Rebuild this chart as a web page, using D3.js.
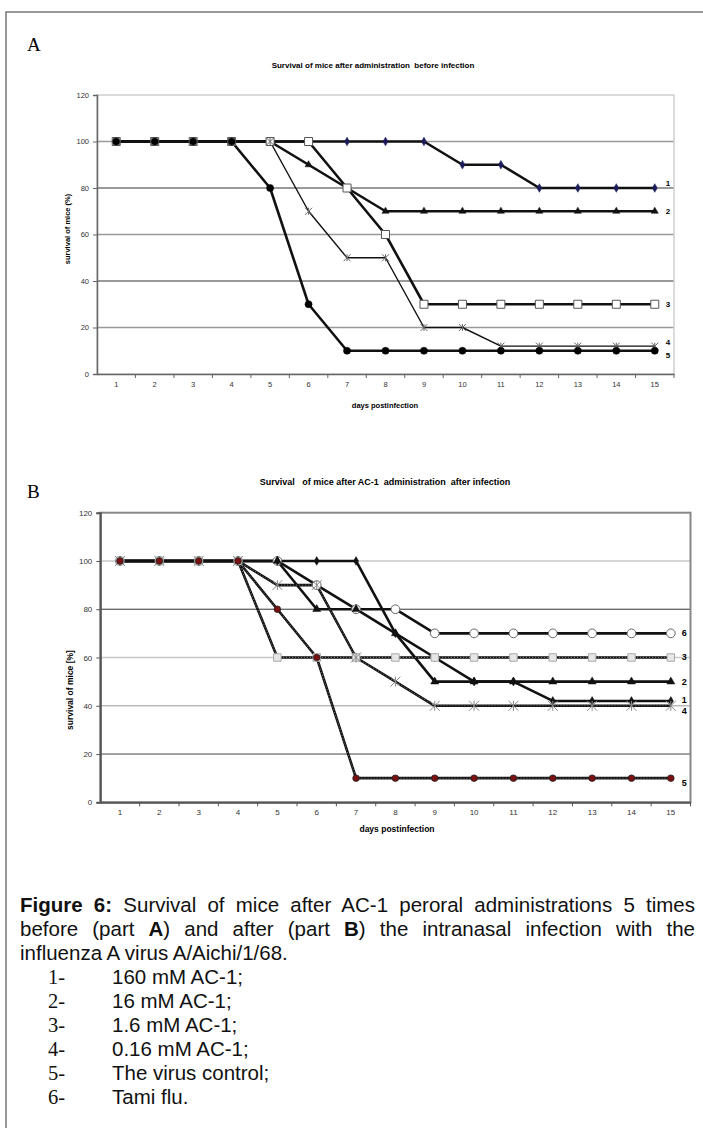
<!DOCTYPE html>
<html>
<head>
<meta charset="utf-8">
<script src="https://cdn.jsdelivr.net/npm/d3@7"></script>
<style>
  body { margin: 0; background: #fff; }
  #figure { position: relative; width: 703px; height: 1128px; overflow: hidden; }
  #figure svg { position: absolute; left: 0; top: 0; }
  .caption {
    position: absolute; left: 20px; top: 893px; width: 675px;
    font-family: "Liberation Sans", Arial, sans-serif;
    font-size: 20.5px; line-height: 24px; color: #111;
  }
  .caption .just { text-align: justify; text-align-last: justify; white-space: nowrap; }
  .caption .item { position: relative; height: 24px; }
  .caption .num { position: absolute; left: 28px; font-family: "Liberation Serif", serif; }
  .caption .txt { position: absolute; left: 92px; }
</style>
</head>
<body>
<div id="figure"></div>
<script>
// categories (days postinfection) and value axis ticks
const days = [1, 2, 3, 4, 5, 6, 7, 8, 9, 10, 11, 12, 13, 14, 15];
const yTicks = [0, 20, 40, 60, 80, 100, 120];

// Part A: administration before infection
const beforeS1 = [100, 100, 100, 100, 100, 100, 100, 100, 100, 90, 90, 80, 80, 80, 80];
const beforeS2 = [100, 100, 100, 100, 100, 90, 80, 70, 70, 70, 70, 70, 70, 70, 70];
const beforeS3 = [100, 100, 100, 100, 100, 100, 80, 60, 30, 30, 30, 30, 30, 30, 30];
const beforeS4 = [100, 100, 100, 100, 100, 70, 50, 50, 20, 20, 12, 12, 12, 12, 12];
const beforeS5 = [100, 100, 100, 100, 80, 30, 10, 10, 10, 10, 10, 10, 10, 10, 10];

// Part B: administration after infection
const afterS1 = [100, 100, 100, 100, 100, 100, 100, 70, 60, 50, 50, 42, 42, 42, 42];
const afterS2 = [100, 100, 100, 100, 100, 80, 80, 70, 50, 50, 50, 50, 50, 50, 50];
const afterS3 = [100, 100, 100, 100, 60, 60, 60, 60, 60, 60, 60, 60, 60, 60, 60];
const afterS4 = [100, 100, 100, 100, 90, 90, 60, 50, 40, 40, 40, 40, 40, 40, 40];
const afterS5 = [100, 100, 100, 100, 80, 60, 10, 10, 10, 10, 10, 10, 10, 10, 10];
const afterS6 = [100, 100, 100, 100, 100, 90, 80, 80, 70, 70, 70, 70, 70, 70, 70];

const captionLines = [
    ["Figure 6:", " Survival of mice after AC-1 peroral administrations 5 times"],
    ["", "before (part ", "A", ") and after (part ", "B", ") the intranasal infection with the"],
    ["", "influenza A virus A/Aichi/1/68."]
];
const legendNums = ["1-", "2-", "3-", "4-", "5-", "6-"];
const legendText = ["160 mM AC-1;", "16 mM AC-1;", "1.6 mM AC-1;", "0.16 mM AC-1;", "The virus control;", "Tami flu."];

const W = 703, H = 1128;
const sans = "'Liberation Sans', Arial, sans-serif";

const container = d3.select("#figure");
const svg = container.append("svg").attr("width", W).attr("height", H);

// outer frame (top and left edges only are visible)
svg.append("path")
    .attr("d", `M6,${H} L6,12 L${W},12`)
    .attr("fill", "none")
    .attr("stroke", "#777")
    .attr("stroke-width", 1.5);

// marker shapes
function markerPath(type, size) {
    if (type === "star") {
        const r = size;
        return `M${-r},${-r}L${r},${r}M${-r},${r}L${r},${-r}M0,${-r}L0,${r}`;
    }
    const sym = {
        diamond: d3.symbolDiamond,
        triangle: d3.symbolTriangle,
        square: d3.symbolSquare,
        circle: d3.symbolCircle
    }[type];
    return d3.symbol().type(sym).size(size)();
}

function drawPanel(cfg) {
    const g = svg.append("g");
    const x = d3.scaleBand().domain(days).range(cfg.xRange);
    const y = d3.scaleLinear().domain([0, 120]).range(cfg.yRange);
    const cx = d => x(d) + x.bandwidth() / 2;
    const [x0, x1] = cfg.xRange;

    // panel letter and chart title
    svg.append("text")
        .attr("x", 27).attr("y", cfg.letterY)
        .style("font-family", "'Liberation Serif', serif")
        .style("font-size", "19px")
        .text(cfg.letter);
    g.append("text")
        .attr("x", cfg.titleX).attr("y", cfg.titleY)
        .attr("text-anchor", "middle")
        .style("font-family", sans)
        .style("font-weight", "bold")
        .style("font-size", cfg.titleSize + "px")
        .style("white-space", "pre")
        .text(cfg.title);

    // gridlines
    g.selectAll(".grid")
        .data(yTicks.filter(t => t > 0 && t < 120))
        .join("line")
        .attr("x1", x0).attr("x2", x1)
        .attr("y1", d => y(d)).attr("y2", d => y(d))
        .attr("stroke", d => cfg.gridColor[d])
        .attr("stroke-width", d => cfg.gridWidth[d]);

    // plot border
    g.append("rect")
        .attr("x", x0).attr("y", y(120))
        .attr("width", x1 - x0).attr("height", y(0) - y(120))
        .attr("fill", "none")
        .attr("stroke", cfg.borderColor)
        .attr("stroke-width", cfg.borderWidth);

    // value axis
    const yAxis = g.append("g")
        .attr("transform", `translate(${x0},0)`)
        .call(d3.axisLeft(y).tickValues(yTicks).tickSize(4).tickPadding(cfg.yPad));
    yAxis.select(".domain").attr("stroke", cfg.axisColor).attr("stroke-width", cfg.axisWidth);
    yAxis.selectAll(".tick line").attr("stroke", cfg.axisColor);
    yAxis.selectAll("text").style("font-family", sans).style("font-size", cfg.tickSize + "px").attr("fill", "#333");

    // category axis: labels centred in the bands, tick marks between them
    const xAxis = g.append("g")
        .attr("transform", `translate(0,${y(0)})`)
        .call(d3.axisBottom(x).tickSize(0).tickPadding(cfg.xPad).tickSizeOuter(0));
    xAxis.select(".domain").attr("stroke", cfg.axisColor).attr("stroke-width", cfg.axisWidth);
    xAxis.selectAll("text").style("font-family", sans).style("font-size", cfg.tickSize + "px").attr("fill", "#333");
    g.append("g")
        .selectAll("line")
        .data(days)
        .join("line")
        .attr("x1", d => x(d) + x.bandwidth()).attr("x2", d => x(d) + x.bandwidth())
        .attr("y1", y(0)).attr("y2", y(0) + 4)
        .attr("stroke", cfg.axisColor);

    // axis titles
    g.append("text")
        .attr("x", cfg.xTitleX).attr("y", cfg.xTitleY)
        .attr("text-anchor", "middle")
        .style("font-family", sans).style("font-weight", "bold")
        .style("font-size", cfg.axisTitleSize + "px")
        .text("days postinfection");
    g.append("text")
        .attr("transform", `translate(${cfg.yTitleX},${cfg.yTitleY}) rotate(-90)`)
        .attr("text-anchor", "middle")
        .style("font-family", sans).style("font-weight", "bold")
        .style("font-size", cfg.axisTitleSize + "px")
        .text(cfg.yTitle);

    // series lines
    const line = d3.line().x((d, i) => cx(days[i])).y(d => y(d));
    cfg.series.forEach(s => {
        g.append("path")
            .datum(s.values)
            .attr("d", line)
            .attr("fill", "none")
            .attr("stroke", "#111")
            .attr("stroke-width", s.width)
            .attr("stroke-linejoin", "round");
        if (s.dotted) {
            g.append("path")
                .datum(s.values)
                .attr("d", line)
                .attr("fill", "none")
                .attr("stroke", "#999")
                .attr("stroke-width", 0.8)
                .attr("stroke-dasharray", "1,2");
        }
    });

    // markers, drawn over all lines (in the panel's stacking order)
    cfg.markerOrder.forEach(k => {
        const s = cfg.series[k];
        g.append("g")
            .selectAll("path")
            .data(s.values)
            .join("path")
            .attr("transform", (d, i) => `translate(${cx(days[i])},${y(d)})`)
            .attr("d", markerPath(s.marker, s.size))
            .attr("fill", s.fill)
            .attr("stroke", s.mstroke)
            .attr("stroke-width", s.mwidth);
    });

    // series numbers at the right end
    cfg.series.forEach(s => {
        const last = s.values[s.values.length - 1];
        g.append("text")
            .attr("x", cx(days[days.length - 1]) + cfg.labelDx)
            .attr("y", y(last) + s.labelDy)
            .attr("dy", "0.35em")
            .style("font-family", sans).style("font-weight", "bold")
            .style("font-size", cfg.labelSize + "px")
            .text(s.name);
    });
}

drawPanel({
    letter: "A", letterY: 51,
    title: "Survival of mice after administration  before infection",
    titleX: 373, titleY: 68, titleSize: 8,
    xRange: [97, 674], yRange: [374, 95],
    gridColor: { 20: "#999", 40: "#777", 60: "#999", 80: "#777", 100: "#999" },
    gridWidth: { 20: 1.3, 40: 1.3, 60: 1.3, 80: 1.3, 100: 1.3 },
    borderColor: "#d0d0d0", borderWidth: 1.5,
    axisColor: "#666", axisWidth: 1.5,
    yPad: 4, xPad: 8, tickSize: 7.5,
    xTitleX: 385, xTitleY: 408, yTitleX: 70, yTitleY: 229,
    axisTitleSize: 7.5, yTitle: "survival of mice (%)",
    labelDx: 11, labelSize: 8,
    markerOrder: [0, 1, 2, 3, 4],
    series: [
        { name: "1", values: beforeS1, width: 2.6, marker: "diamond", size: 22, fill: "#1c1c5a", mstroke: "#1c1c5a", mwidth: 0.5, labelDy: -5 },
        { name: "2", values: beforeS2, width: 2.6, marker: "triangle", size: 22, fill: "#111", mstroke: "#111", mwidth: 0.5, labelDy: 0 },
        { name: "3", values: beforeS3, width: 2.6, marker: "square", size: 64, fill: "#fff", mstroke: "#555", mwidth: 1, labelDy: 0 },
        { name: "4", values: beforeS4, width: 1.4, marker: "star", size: 3.5, fill: "none", mstroke: "#666", mwidth: 1, labelDy: -4 },
        { name: "5", values: beforeS5, width: 2.6, marker: "circle", size: 40, fill: "#000", mstroke: "#000", mwidth: 0.5, labelDy: 4 }
    ]
});

drawPanel({
    letter: "B", letterY: 498,
    title: "Survival   of mice after AC-1  administration  after infection",
    titleX: 385, titleY: 485, titleSize: 9,
    xRange: [100.3, 690.5], yRange: [802.3, 512.7],
    gridColor: { 20: "#444", 40: "#bbb", 60: "#c8c8c8", 80: "#333", 100: "#c8c8c8" },
    gridWidth: { 20: 1, 40: 1.3, 60: 1.6, 80: 1, 100: 1.6 },
    borderColor: "#888", borderWidth: 2,
    axisColor: "#555", axisWidth: 2,
    yPad: 4, xPad: 7, tickSize: 8,
    xTitleX: 397, xTitleY: 832, yTitleX: 73, yTitleY: 690,
    axisTitleSize: 8.5, yTitle: "survival of mice [%]",
    labelDx: 11, labelSize: 9,
    markerOrder: [5, 0, 1, 2, 3, 4],
    series: [
        { name: "1", values: afterS1, width: 2.6, marker: "diamond", size: 22, fill: "#111", mstroke: "#111", mwidth: 0.5, labelDy: -1 },
        { name: "2", values: afterS2, width: 2.6, marker: "triangle", size: 28, fill: "#111", mstroke: "#111", mwidth: 0.5, labelDy: 0 },
        { name: "3", values: afterS3, width: 2.6, dotted: true, marker: "square", size: 56, fill: "#e6e6e6", mstroke: "#aaa", mwidth: 1, labelDy: -1 },
        { name: "4", values: afterS4, width: 2.6, dotted: true, marker: "star", size: 5, fill: "none", mstroke: "#888", mwidth: 1, labelDy: 5 },
        { name: "5", values: afterS5, width: 2.6, dotted: true, marker: "circle", size: 34, fill: "#7a1010", mstroke: "#222", mwidth: 0.8, labelDy: 5 },
        { name: "6", values: afterS6, width: 2.6, marker: "circle", size: 60, fill: "#fff", mstroke: "#666", mwidth: 1, labelDy: -1 }
    ]
});

// figure caption (HTML text, justified like the original)
const caption = container.append("div").attr("class", "caption");
captionLines.forEach((parts, li) => {
    const row = caption.append("div").attr("class", li < 2 ? "just" : "");
    parts.forEach((p, pi) => {
        if (!p) return;
        const bold = (li === 0 && pi === 0) || p === "A" || p === "B";
        row.append("span").style("font-weight", bold ? "bold" : null).text(p);
    });
});
legendNums.forEach((n, i) => {
    const item = caption.append("div").attr("class", "item");
    item.append("span").attr("class", "num").text(n);
    item.append("span").attr("class", "txt").text(legendText[i]);
});
</script>
</body>
</html>
